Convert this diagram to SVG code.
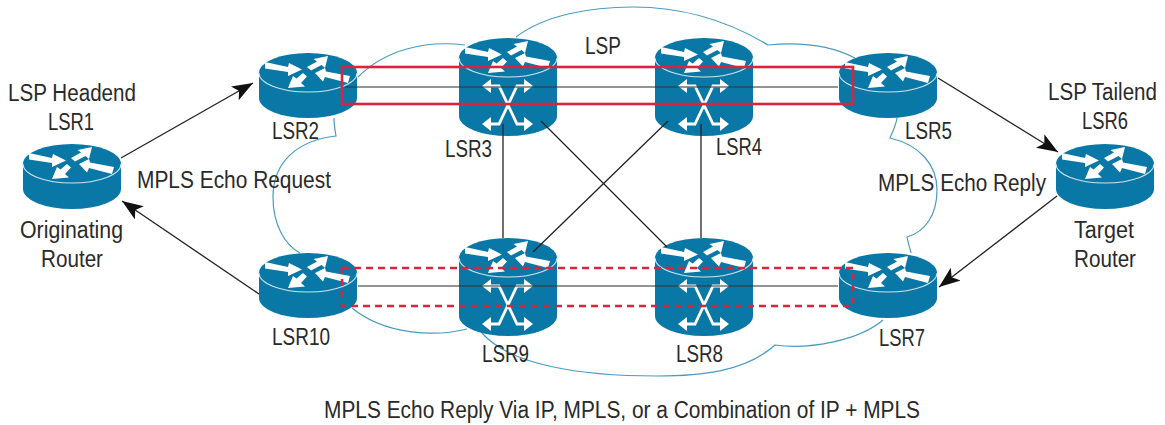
<svg xmlns="http://www.w3.org/2000/svg" xmlns:xlink="http://www.w3.org/1999/xlink" width="1165" height="425" viewBox="0 0 1165 425">
<style>
text{font-family:"Liberation Sans",Arial,sans-serif;font-size:23.5px;fill:#2a2a2a}
.cloud{fill:none;stroke:#4a9bc1;stroke-width:1.2}
.link{fill:none;stroke:#222;stroke-width:1.3}
.lsp{fill:none;stroke:#333;stroke-opacity:.7;stroke-width:1.6}
.arrow{fill:none;stroke:#222;stroke-width:1.3;marker-end:url(#head)}
.red{fill:none;stroke:#d8253f;stroke-width:2.6}
.dash{stroke-dasharray:7 5}
.body{fill:#0a78a6}
.rim{fill:none;stroke:#cfe3ec;stroke-width:1.1}
.w{fill:#fff}
.x{fill:none;stroke:#fff;stroke-width:2.8}
</style>
<defs>
<marker id="head" markerUnits="userSpaceOnUse" markerWidth="24" markerHeight="18" refX="21" refY="8" orient="auto">
<path d="M0,0 L21,8 L0,16 L5,8 Z" fill="#111"/>
</marker>
<g id="arrows">
<polygon class="w" points="-43,-11 -20,-6 -19,-10 -6,-3.5 -20,3 -20,-1 -43,-4.5"/>
<polygon class="w" points="20,-17 17,-5 13.5,-8 3,-2.5 -1,-6 9,-11.5 5.5,-14"/>
<polygon class="w" points="7,0 17,-5 18,-1.5 42,3 40,10 17,4 15,8.5"/>
<polygon class="w" points="-20,15 -15,3 -11.5,5.5 -5,0 -1,3.5 -7,10 -3,13.5"/>
</g>
<g id="router">
<path class="body" d="M-49,0 A49,20 0 0 1 49,0 V25 A49,20 0 0 1 -49,25 Z"/>
<path class="rim" d="M-49,0 A49,19 0 0 0 49,0"/>
<use href="#arrows" xlink:href="#arrows"/>
</g>
<g id="switch">
<path class="body" d="M-49,0 A49,20 0 0 1 49,0 V58 A49,20 0 0 1 -49,58 Z"/>
<path class="rim" d="M-49,0 A49,19 0 0 0 49,0"/>
<use href="#arrows" xlink:href="#arrows"/>
<path class="x" d="M-20,28 H-9 L9,66 H20 M20,28 H9 L-9,66 H-20"/>
<polygon class="w" points="-26,28 -17,21 -17,35"/>
<polygon class="w" points="25,28 16,21 16,35"/>
<polygon class="w" points="-26,66 -17,59 -17,73"/>
<polygon class="w" points="25,66 16,59 16,73"/>
</g>
</defs>
<g id="cloud">
<path class="cloud" d="M358,77 C385,50 425,40 465,45"/>
<path class="cloud" d="M516,37 C545,15 590,7 633,7 C685,7 730,22 768,45 C798,42 830,45 855,58"/>
<path class="cloud" d="M897,118 C896,125 893,131 890,138 C920,145 937,165 937,190 C937,215 925,232 907,237 C908,243 910,248 911,253"/>
<path class="cloud" d="M883,320 C860,340 810,350 775,345 C745,372 700,376 657,376 C580,376 510,365 482,333"/>
<path class="cloud" d="M467,329 C435,337 385,335 352,308"/>
<path class="cloud" d="M300,253 C285,245 273,225 273,197 C273,160 300,140 336,136 C335,130 334,125 334,118"/>
</g>
<g id="LSR1"><use href="#router" xlink:href="#router" x="72" y="164"/>
<text x="8" y="101" textLength="128" lengthAdjust="spacingAndGlyphs">LSP Headend</text>
<text x="48" y="130" textLength="46" lengthAdjust="spacingAndGlyphs">LSR1</text>
<text x="20" y="238" textLength="103" lengthAdjust="spacingAndGlyphs">Originating</text>
<text x="41" y="267" textLength="62" lengthAdjust="spacingAndGlyphs">Router</text></g>
<g id="LSR2"><use href="#router" xlink:href="#router" x="308" y="73"/><text x="272" y="139" textLength="47" lengthAdjust="spacingAndGlyphs">LSR2</text></g>
<g id="LSR3"><use href="#switch" xlink:href="#switch" x="508" y="58"/><text x="445" y="157" textLength="47" lengthAdjust="spacingAndGlyphs">LSR3</text></g>
<g id="LSR4"><use href="#switch" xlink:href="#switch" x="704" y="58"/><text x="716" y="155" textLength="46" lengthAdjust="spacingAndGlyphs">LSR4</text></g>
<g id="LSR5"><use href="#router" xlink:href="#router" x="888" y="73"/><text x="905" y="139" textLength="47" lengthAdjust="spacingAndGlyphs">LSR5</text></g>
<g id="LSR6"><use href="#router" xlink:href="#router" x="1105" y="164"/>
<text x="1048" y="100" textLength="109" lengthAdjust="spacingAndGlyphs">LSP Tailend</text>
<text x="1082" y="129" textLength="46" lengthAdjust="spacingAndGlyphs">LSR6</text>
<text x="1074" y="238" textLength="60" lengthAdjust="spacingAndGlyphs">Target</text>
<text x="1074" y="267" textLength="62" lengthAdjust="spacingAndGlyphs">Router</text></g>
<g id="LSR7"><use href="#router" xlink:href="#router" x="888" y="273"/><text x="879" y="346" textLength="46" lengthAdjust="spacingAndGlyphs">LSR7</text></g>
<g id="LSR8"><use href="#switch" xlink:href="#switch" x="704" y="258"/><text x="676" y="362" textLength="47" lengthAdjust="spacingAndGlyphs">LSR8</text></g>
<g id="LSR9"><use href="#switch" xlink:href="#switch" x="508" y="258"/><text x="482" y="362" textLength="47" lengthAdjust="spacingAndGlyphs">LSR9</text></g>
<g id="LSR10"><use href="#router" xlink:href="#router" x="308" y="273"/><text x="272" y="345" textLength="58" lengthAdjust="spacingAndGlyphs">LSR10</text></g>
<g id="labels">
<text x="585" y="54" textLength="36" lengthAdjust="spacingAndGlyphs">LSP</text>
<text x="137" y="188" textLength="194" lengthAdjust="spacingAndGlyphs">MPLS Echo Request</text>
<text x="878" y="191" textLength="168" lengthAdjust="spacingAndGlyphs">MPLS Echo Reply</text>
<text x="324" y="418" textLength="596" lengthAdjust="spacingAndGlyphs">MPLS Echo Reply Via IP, MPLS, or a Combination of IP + MPLS</text>
</g>
<g id="connectors">
<line class="link" x1="503" y1="124" x2="503" y2="238"/>
<line class="link" x1="701" y1="124" x2="701" y2="238"/>
<line class="link" x1="541" y1="121" x2="667" y2="247"/>
<line class="link" x1="668" y1="121" x2="533" y2="252"/>
<line class="lsp" x1="345" y1="87" x2="838" y2="87"/>
<line class="lsp" x1="358" y1="286" x2="838" y2="286"/>
<rect class="red" x="342" y="67" width="511" height="37"/>
<rect class="red dash" x="342" y="268" width="511" height="38"/>
<line class="arrow" x1="121" y1="158" x2="253" y2="83"/>
<line class="arrow" x1="259" y1="294" x2="122" y2="201"/>
<line class="arrow" x1="938" y1="78" x2="1058" y2="152"/>
<line class="arrow" x1="1057" y1="196" x2="939" y2="287"/>
</g>
</svg>
